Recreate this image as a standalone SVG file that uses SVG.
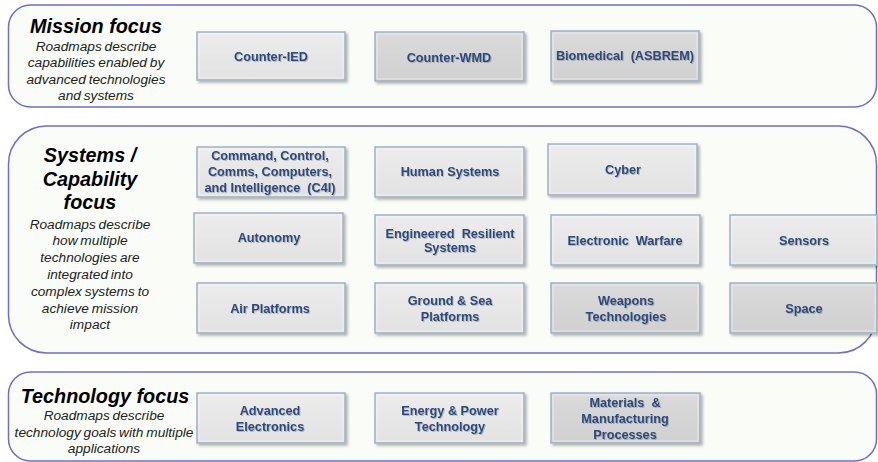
<svg xmlns="http://www.w3.org/2000/svg" width="878" height="462" viewBox="0 0 878 462">
<defs>
<linearGradient id="gLight" x1="0" y1="0" x2="0" y2="1">
<stop offset="0" stop-color="#ececec"/><stop offset="1" stop-color="#e2e2e2"/>
</linearGradient>
<linearGradient id="gDark" x1="0" y1="0" x2="0" y2="1">
<stop offset="0" stop-color="#dadada"/><stop offset="1" stop-color="#d0d0d0"/>
</linearGradient>
<filter id="sh" x="-10%" y="-20%" width="125%" height="150%">
<feDropShadow dx="2" dy="2" stdDeviation="1.5" flood-color="#000" flood-opacity="0.3"/>
</filter>
<filter id="tsh" x="-10%" y="-30%" width="120%" height="160%">
<feDropShadow dx="1" dy="1" stdDeviation="0.6" flood-color="#000" flood-opacity="0.2"/>
</filter>
</defs>
<style>
.panel{fill:#fafdf7;stroke:#6d6dd0;stroke-width:1.5}
.box{stroke:#9fb1c9;stroke-width:1.5;filter:url(#sh)}
.light{fill:url(#gLight)}
.dark{fill:url(#gDark)}
.bevel{fill:none;stroke:#ffffff;stroke-opacity:0.5;stroke-width:1}
.bt{font-family:"Liberation Sans",Arial,sans-serif;font-weight:bold;font-size:12.7px;fill:#2c4a7e;text-anchor:middle;filter:url(#tsh)}
.h{font-family:"Liberation Sans",Arial,sans-serif;font-weight:bold;font-style:italic;font-size:19.8px;fill:#000;text-anchor:middle}
.d{font-family:"Liberation Sans",Arial,sans-serif;font-style:italic;font-size:13.7px;fill:#222;text-anchor:middle;word-spacing:-1px}
</style>

<g id="panel-mission">
<rect class="panel" x="8.5" y="5" width="868" height="102" rx="22"/>
<text class="h" x="96" y="33">Mission focus</text>
<text class="d" x="96" y="51">Roadmaps describe</text>
<text class="d" x="96" y="67">capabilities enabled by</text>
<text class="d" x="96" y="84">advanced technologies</text>
<text class="d" x="96" y="100">and systems</text>
</g>

<g id="panel-systems">
<rect class="panel" x="8.5" y="126" width="868" height="227" rx="38"/>
<text class="h" x="90" y="162">Systems /</text>
<text class="h" x="90" y="186">Capability</text>
<text class="h" x="90" y="209">focus</text>
<text class="d" x="90" y="229">Roadmaps describe</text>
<text class="d" x="90" y="245">how multiple</text>
<text class="d" x="90" y="262">technologies are</text>
<text class="d" x="90" y="279">integrated into</text>
<text class="d" x="90" y="296">complex systems to</text>
<text class="d" x="90" y="313">achieve mission</text>
<text class="d" x="90" y="329">impact</text>
</g>

<g id="panel-technology">
<rect class="panel" x="8.5" y="372" width="868" height="89" rx="22"/>
<text class="h" x="105" y="403">Technology focus</text>
<text class="d" x="104" y="420">Roadmaps describe</text>
<text class="d" x="104" y="437">technology goals with multiple</text>
<text class="d" x="104" y="453">applications</text>
</g>

<g id="counter-ied">
<rect class="box light" x="197" y="32" width="148" height="48"/>
<rect class="bevel" x="199" y="34" width="144" height="44"/>
<text class="bt" x="271" y="61">Counter-IED</text>
</g>
<g id="counter-wmd">
<rect class="box dark" x="375" y="32" width="149" height="49"/>
<rect class="bevel" x="377" y="34" width="145" height="45"/>
<text class="bt" x="449" y="62">Counter-WMD</text>
</g>
<g id="biomedical">
<rect class="box dark" x="551" y="31" width="148" height="50"/>
<rect class="bevel" x="553" y="33" width="144" height="46"/>
<text class="bt" x="625" y="60" xml:space="preserve">Biomedical  (ASBREM)</text>
</g>

<g id="c4i">
<rect class="box light" x="197" y="147" width="148" height="50"/>
<rect class="bevel" x="199" y="149" width="144" height="46"/>
<text class="bt" x="270" y="160">Command, Control,</text>
<text class="bt" x="270" y="176">Comms, Computers,</text>
<text class="bt" x="270" y="192" xml:space="preserve">and Intelligence  (C4I)</text>
</g>
<g id="human-systems">
<rect class="box light" x="375" y="147" width="149" height="50"/>
<rect class="bevel" x="377" y="149" width="145" height="46"/>
<text class="bt" x="450" y="176">Human Systems</text>
</g>
<g id="cyber">
<rect class="box light" x="548" y="144" width="149" height="51"/>
<rect class="bevel" x="550" y="146" width="145" height="47"/>
<text class="bt" x="623" y="174">Cyber</text>
</g>

<g id="autonomy">
<rect class="box light" x="194" y="213" width="149" height="50"/>
<rect class="bevel" x="196" y="215" width="145" height="46"/>
<text class="bt" x="269" y="242">Autonomy</text>
</g>
<g id="engineered-resilient-systems">
<rect class="box light" x="375" y="215" width="149" height="50"/>
<rect class="bevel" x="377" y="217" width="145" height="46"/>
<text class="bt" x="450" y="238" xml:space="preserve">Engineered  Resilient</text>
<text class="bt" x="450" y="252">Systems</text>
</g>
<g id="electronic-warfare">
<rect class="box light" x="551" y="215" width="149" height="50"/>
<rect class="bevel" x="553" y="217" width="145" height="46"/>
<text class="bt" x="625" y="245" xml:space="preserve">Electronic  Warfare</text>
</g>
<g id="sensors">
<rect class="box light" x="730" y="215" width="147" height="50"/>
<rect class="bevel" x="732" y="217" width="143" height="46"/>
<text class="bt" x="804" y="245">Sensors</text>
</g>

<g id="air-platforms">
<rect class="box light" x="197" y="283" width="148" height="50"/>
<rect class="bevel" x="199" y="285" width="144" height="46"/>
<text class="bt" x="270" y="313">Air Platforms</text>
</g>
<g id="ground-sea-platforms">
<rect class="box light" x="375" y="283" width="149" height="50"/>
<rect class="bevel" x="377" y="285" width="145" height="46"/>
<text class="bt" x="450" y="305">Ground &amp; Sea</text>
<text class="bt" x="450" y="321">Platforms</text>
</g>
<g id="weapons-technologies">
<rect class="box dark" x="551" y="283" width="149" height="50"/>
<rect class="bevel" x="553" y="285" width="145" height="46"/>
<text class="bt" x="626" y="305">Weapons</text>
<text class="bt" x="626" y="321">Technologies</text>
</g>
<g id="space">
<rect class="box dark" x="730" y="283" width="147" height="50"/>
<rect class="bevel" x="732" y="285" width="143" height="46"/>
<text class="bt" x="804" y="313">Space</text>
</g>

<g id="advanced-electronics">
<rect class="box light" x="197" y="393" width="148" height="50"/>
<rect class="bevel" x="199" y="395" width="144" height="46"/>
<text class="bt" x="270" y="415">Advanced</text>
<text class="bt" x="270" y="431">Electronics</text>
</g>
<g id="energy-power">
<rect class="box light" x="375" y="393" width="149" height="50"/>
<rect class="bevel" x="377" y="395" width="145" height="46"/>
<text class="bt" x="450" y="415">Energy &amp; Power</text>
<text class="bt" x="450" y="431">Technology</text>
</g>
<g id="materials-manufacturing">
<rect class="box dark" x="551" y="393" width="149" height="50"/>
<rect class="bevel" x="553" y="395" width="145" height="46"/>
<text class="bt" x="625" y="407" xml:space="preserve">Materials  &amp;</text>
<text class="bt" x="625" y="423">Manufacturing</text>
<text class="bt" x="625" y="439">Processes</text>
</g>
</svg>
